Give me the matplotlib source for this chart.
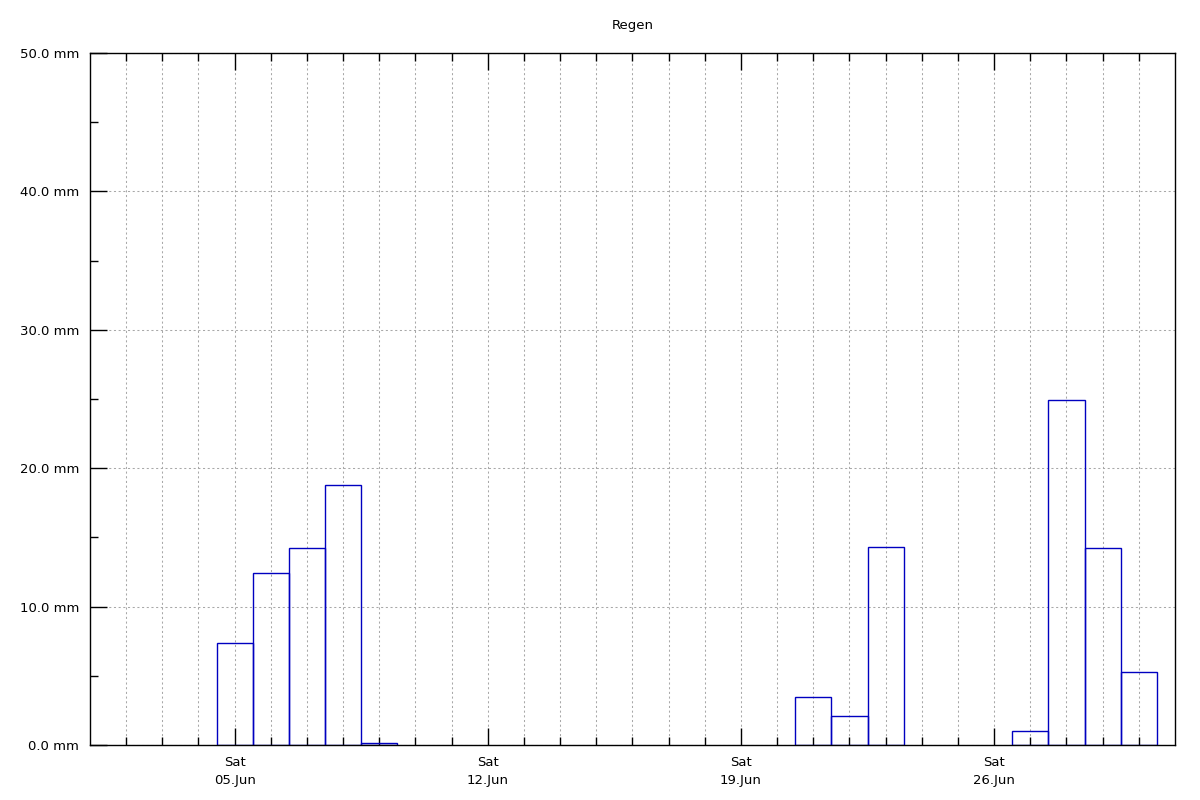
import matplotlib
matplotlib.use("Agg")
import matplotlib.pyplot as plt
import datetime as dt

# Data: daily rainfall (mm), June 2021
days = [dt.datetime(2021, 6, d) for d in range(1, 31)]
rain_mm = [0, 0, 0, 0, 7.4, 12.4, 14.2, 18.8, 0.15, 0,
           0, 0, 0, 0, 0, 0, 0, 0, 0, 0,
           3.5, 2.1, 14.3, 0, 0, 0, 1.0, 24.9, 14.2, 5.3]
title = "Regen"
y_ticks = [0, 10, 20, 30, 40, 50]
y_tick_labels = ["0.0 mm", "10.0 mm", "20.0 mm", "30.0 mm", "40.0 mm", "50.0 mm"]
x_major_days = [dt.datetime(2021, 6, d) for d in (5, 12, 19, 26)]
x_major_labels = ["Sat\n05.Jun", "Sat\n12.Jun", "Sat\n19.Jun", "Sat\n26.Jun"]

plt.rcParams['font.family'] = ['DejaVu Sans']
fig = plt.figure(figsize=(12, 8), dpi=100)
ax_left, ax_right, ax_top, ax_bottom = 90, 1175, 53, 745
ax = fig.add_axes([ax_left/1200, (800-ax_bottom)/800,
                   (ax_right-ax_left)/1200, (ax_bottom-ax_top)/800])

blue = '#0000c0'
xs = [d for d, v in zip(days, rain_mm) if v > 0]
vs = [v for v in rain_mm if v > 0]
ax.bar(xs, vs, width=1.0, align='center', fill=False, edgecolor=blue,
       linewidth=1.0, zorder=3)

ax.set_xlim(dt.datetime(2021, 6, 1), dt.datetime(2021, 7, 1))
ax.set_ylim(0, 50)

ax.set_yticks(y_ticks)
ax.set_yticklabels(y_tick_labels)
ax.set_yticks([5, 15, 25, 35, 45], minor=True)

ax.set_xticks(x_major_days)
ax.set_xticklabels(x_major_labels, linespacing=1.5)
minor_days = [dt.datetime(2021, 6, d) for d in range(2, 31)]
ax.set_xticks([d for d in minor_days if d not in x_major_days], minor=True)

ax.tick_params(axis='both', which='major', direction='in', length=12, width=1.0,
               labelsize=9.5, pad=8, color='black')
ax.tick_params(axis='both', which='minor', direction='in', length=6, width=1.0,
               color='black')
ax.tick_params(axis='x', which='both', top=True)
ax.tick_params(axis='y', which='both', right=False)

gridkw = dict(color='#a8a8a8', linestyle=(0, (2.0, 2.5)), linewidth=0.75)
ax.grid(True, axis='y', which='major', **gridkw)
ax.grid(True, axis='x', which='both', **gridkw)
ax.set_axisbelow(True)

for s in ax.spines.values():
    s.set_linewidth(1.0)
    s.set_zorder(5)

fig.text((ax_left + ax_right) / 2 / 1200, 1 - 26/800, title,
         ha='center', va='center', fontsize=9.5)

fig.savefig("out.png", dpi=100)
